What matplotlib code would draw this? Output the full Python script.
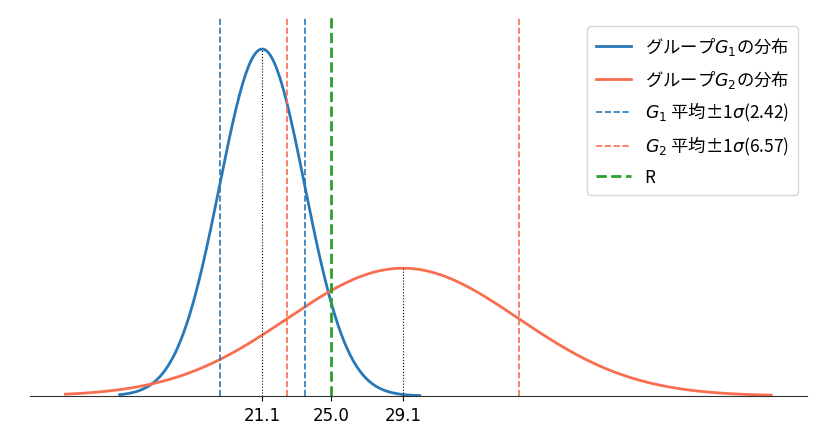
import numpy as np
import matplotlib

matplotlib.use("Agg")
import matplotlib.pyplot as plt

plt.rcParams["font.family"] = ["DejaVu Sans", "Noto Sans CJK JP"]
plt.rcParams["font.size"] = 12
plt.rcParams["axes.unicode_minus"] = False

# group statistics
g1_mean, g1_std = 21.1, 2.42
g2_mean, g2_std = 29.1, 6.57
r_value = 25.0
# x ranges of the drawn curves
g1_range = [13.0, 30.06]
g2_range = [9.92, 50.04]
tick_values = [g1_mean, r_value, g2_mean]

c1 = "#2878b8"
c2 = "#fa6e50"


def pdf(x, m, s):
    return np.exp(-0.5 * ((x - m) / s) ** 2) / (s * np.sqrt(2 * np.pi))


fig = plt.figure(figsize=(8.14, 4.39), dpi=100)
ax = fig.add_axes([0.037, 0.0957, 0.954, 0.863])

x1 = np.linspace(*g1_range, 400)
x2 = np.linspace(*g2_range, 400)
ax.plot(x1, pdf(x1, g1_mean, g1_std), color=c1, lw=2, label="グループ$G_1$の分布")
ax.plot(x2, pdf(x2, g2_mean, g2_std), color=c2, lw=2, label="グループ$G_2$の分布")

ax.axvline(g1_mean - g1_std, color=c1, ls="--", lw=1.2, label=f"$G_1$ 平均±1$\\sigma$({g1_std:.2f})")
ax.axvline(g1_mean + g1_std, color=c1, ls="--", lw=1.2)
ax.axvline(g2_mean - g2_std, color=c2, ls="--", lw=1.2, label=f"$G_2$ 平均±1$\\sigma$({g2_std:.2f})")
ax.axvline(g2_mean + g2_std, color=c2, ls="--", lw=1.2)
ax.axvline(r_value, color="#2ca02c", ls="--", lw=2, label="R")

# dotted markers from baseline to each peak
for m, s in [(g1_mean, g1_std), (g2_mean, g2_std)]:
    ax.vlines(m, 0, pdf(m, m, s), color="black", ls=":", lw=0.8)

ax.set_xlim(7.91, 52.05)
ax.set_ylim(0, 0.18)
ax.set_xticks(tick_values)
ax.set_xticklabels([f"{v:.1f}" for v in tick_values])
ax.set_yticks([])
for side in ["left", "right", "top"]:
    ax.spines[side].set_visible(False)
ax.spines["bottom"].set_color("#333333")

ax.legend(loc="upper right", bbox_to_anchor=(0.9884, 0.976), borderaxespad=0,
          labelspacing=0.62, borderpad=0.5,
          prop={"family": "Noto Sans CJK JP", "size": 12.5})

fig.savefig("out.png", dpi=100)
